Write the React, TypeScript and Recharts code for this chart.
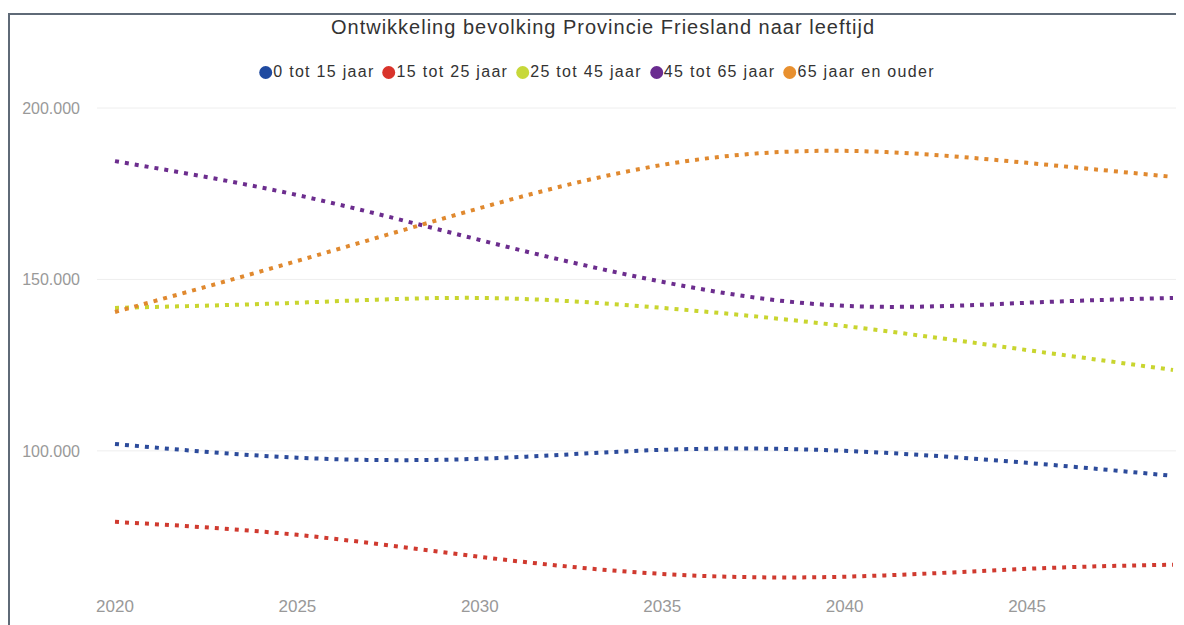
import React from 'react';
import { LineChart, Line, XAxis, YAxis, CartesianGrid } from 'recharts';

const years = [2020, 2025, 2030, 2035, 2040, 2045, 2049];
const age0to15 = [102000, 98000, 97700, 100300, 100000, 96500, 92700];
const age15to25 = [79300, 75500, 69100, 64100, 63300, 65600, 66800];
const age25to45 = [141700, 143200, 144600, 141700, 136400, 129400, 123600];
const age45to65 = [184500, 174600, 161500, 149300, 142300, 143200, 144600];
const age65plus = [140500, 155400, 170800, 183400, 187500, 184000, 179900];

const xTicks = [2020, 2025, 2030, 2035, 2040, 2045];
const yTicks = [100000, 150000, 200000];

const series = [
  { key: 'a', name: '0 tot 15 jaar', values: age0to15, color: '#2c4b9b', dot: '#1f4aa0' },
  { key: 'b', name: '15 tot 25 jaar', values: age15to25, color: '#d03a2f', dot: '#d9342b' },
  { key: 'c', name: '25 tot 45 jaar', values: age25to45, color: '#c9d52f', dot: '#c7d83a' },
  { key: 'd', name: '45 tot 65 jaar', values: age45to65, color: '#6c2d8e', dot: '#6a2c90' },
  { key: 'e', name: '65 jaar en ouder', values: age65plus, color: '#e0892f', dot: '#e8902f' },
];

const data = years.map((year, i) => {
  const row: Record<string, number> = { year };
  series.forEach(s => { row[s.key] = s.values[i]; });
  return row;
});

const fmt = (v: number) => v.toString().replace(/\B(?=(\d{3})+(?!\d))/g, '.');

const font = '"Liberation Sans", Arial, sans-serif';

export default function App() {
  return (
    <div style={{
      position: 'relative', marginTop: 5, width: 1167, height: 625, overflow: 'hidden',
      borderTop: '2px solid #5f6a77', borderLeft: '2px solid #5f6a77',
      borderRight: '1px solid #ebebeb', background: '#fff',
    }}>
      <style>{'html,body{overflow:hidden}'}</style>
      <div style={{
        position: 'absolute', top: 0, left: 593, transform: 'translateX(-50%)', whiteSpace: 'nowrap',
        fontFamily: font, fontSize: 20, lineHeight: '24px', letterSpacing: 1, color: '#333',
      }}>
        Ontwikkeling bevolking Provincie Friesland naar leeftijd
      </div>
      <div style={{
        position: 'absolute', top: 47, left: 591, transform: 'translateX(-50%)', whiteSpace: 'nowrap',
        display: 'flex', alignItems: 'center', fontFamily: font, fontSize: 16, letterSpacing: 1.3,
        lineHeight: '20px', color: '#333',
      }}>
        {series.map(s => (
          <span key={s.key} style={{ display: 'flex', alignItems: 'center', marginRight: 8 }}>
            <span style={{ width: 13, height: 13, borderRadius: 7, background: s.dot, marginRight: 1 }} />
            {s.name}
          </span>
        ))}
      </div>
      <div style={{ position: 'absolute', top: 0, left: 0 }}>
        <LineChart width={1172} height={620} data={data} margin={{ top: 93, right: 6, bottom: 17, left: 0 }}>
          <CartesianGrid vertical={false} horizontalValues={yTicks} stroke="#eeeeee" />
          <XAxis
            dataKey="year" type="number" domain={[2020, 2049]} ticks={xTicks}
            padding={{ left: 18, right: 3 }} axisLine={false} tickLine={false}
            tickSize={0} tickMargin={12} height={30}
            tick={{ fill: '#999', fontSize: 17, fontFamily: font }}
          />
          <YAxis
            type="number" domain={[60000, 200000]} ticks={yTicks} tickFormatter={fmt}
            axisLine={false} tickLine={false} tickSize={0} tickMargin={17} width={87}
            tick={{ fill: '#999', fontSize: 16, fontFamily: font }}
          />
          {series.map(s => (
            <Line
              key={s.key} dataKey={s.key} name={s.name} type="natural" stroke={s.color}
              strokeWidth={4} strokeDasharray="4 6" dot={false} activeDot={false}
              isAnimationActive={false}
            />
          ))}
        </LineChart>
      </div>
    </div>
  );
}
